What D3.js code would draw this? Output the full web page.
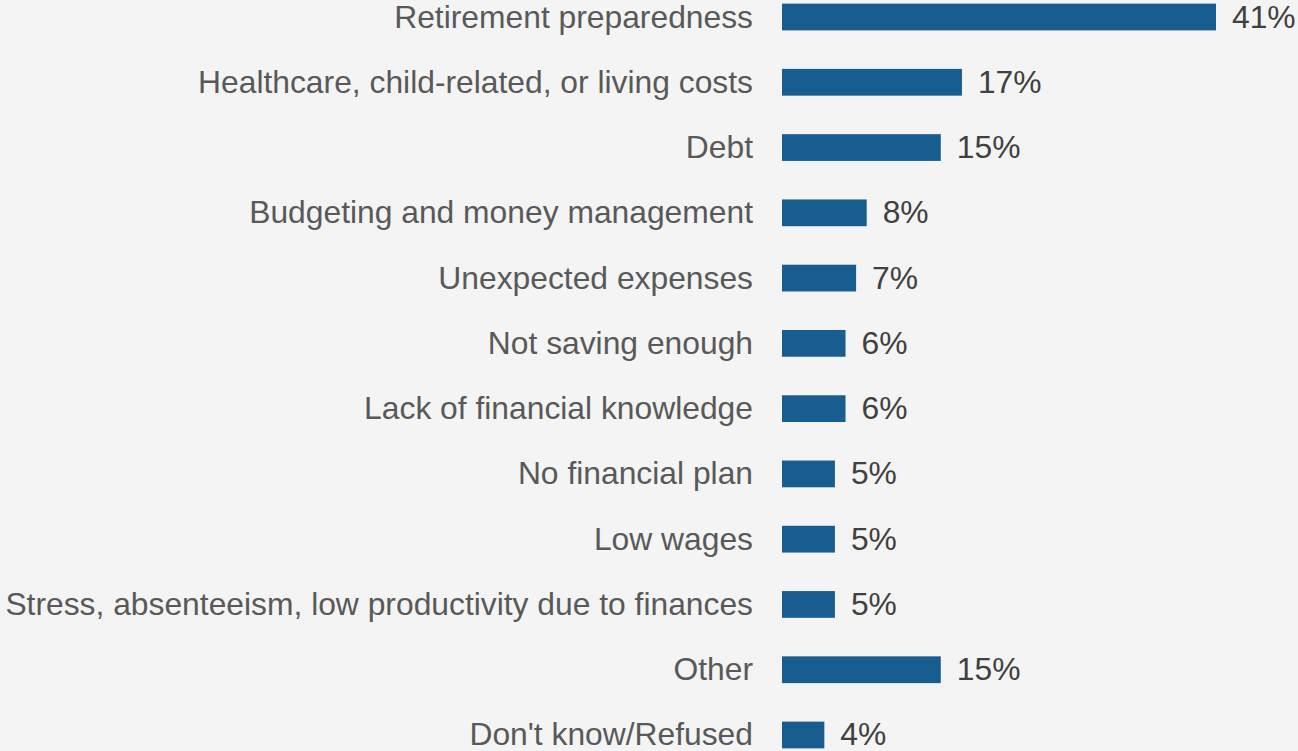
<!DOCTYPE html>
<html>
<head>
<meta charset="utf-8">
<script src="https://cdn.jsdelivr.net/npm/d3@7"></script>
<style>
  html, body { margin: 0; padding: 0; background: #f4f4f4; }
  svg { display: block; }
</style>
</head>
<body>
<svg id="chart" width="1298" height="751"></svg>
<script>
// Top concerns, share of respondents (%)
const categories = [
  "Retirement preparedness",
  "Healthcare, child-related, or living costs",
  "Debt",
  "Budgeting and money management",
  "Unexpected expenses",
  "Not saving enough",
  "Lack of financial knowledge",
  "No financial plan",
  "Low wages",
  "Stress, absenteeism, low productivity due to finances",
  "Other",
  "Don't know/Refused"
];
const values = [41, 17, 15, 8, 7, 6, 6, 5, 5, 5, 15, 4];
const valueLabels = values.map(v => v + "%");

const svg = d3.select("#chart");
const W = 1298, H = 751;

svg.append("rect").attr("width", W).attr("height", H).attr("fill", "#f4f4f4");

const step = 65.27;
const firstCenter = 17, lastCenter = 735;
const y = d3.scaleBand()
  .domain(categories)
  .range([firstCenter - step / 2, lastCenter + step / 2])
  .paddingInner(0.59)
  .paddingOuter(0.295);

const x = d3.scaleLinear().domain([0, 41]).range([782, 1216]);

const font = "'Liberation Sans', Arial, sans-serif";
const fontSize = 31.8;

const rows = svg.append("g").selectAll("g")
  .data(categories.map((c, i) => ({ c, v: values[i], label: valueLabels[i] })))
  .join("g");

rows.append("rect")
  .attr("x", x(0))
  .attr("y", d => y(d.c))
  .attr("width", d => x(d.v) - x(0))
  .attr("height", y.bandwidth())
  .attr("fill", "#175d8f");

rows.append("text")
  .attr("x", x(0) - 29)
  .attr("y", d => y(d.c) + y.bandwidth() / 2)
  .attr("dy", "0.33em")
  .attr("text-anchor", "end")
  .attr("font-family", font)
  .attr("font-size", fontSize)
  .attr("fill", "#595959")
  .text(d => d.c);

rows.append("text")
  .attr("x", d => x(d.v) + 16)
  .attr("y", d => y(d.c) + y.bandwidth() / 2)
  .attr("dy", "0.33em")
  .attr("font-family", font)
  .attr("font-size", fontSize)
  .attr("fill", "#404040")
  .text(d => d.label);
</script>
</body>
</html>
